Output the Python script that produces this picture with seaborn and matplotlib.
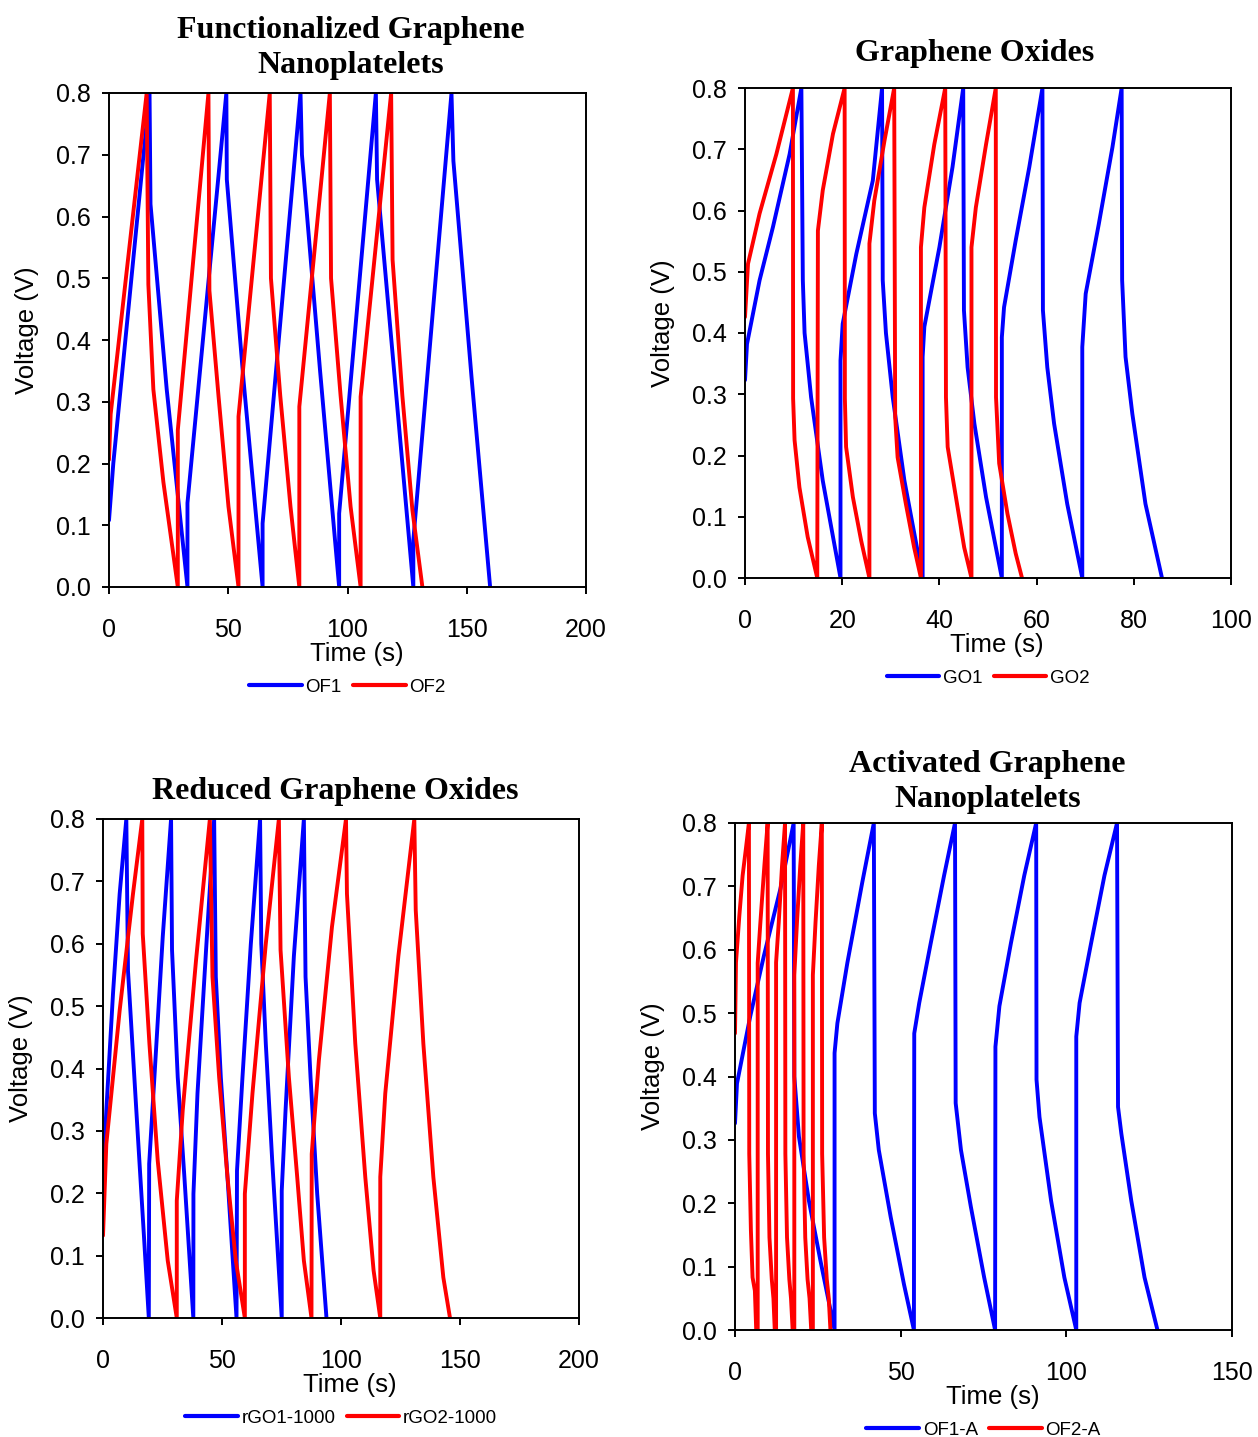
import matplotlib
matplotlib.use('Agg')
import matplotlib.pyplot as plt
from matplotlib.ticker import FormatStrFormatter
from matplotlib.lines import Line2D
import seaborn as sns

# Charge/discharge curves (time in s, voltage in V)

# Functionalized graphene nanoplatelets
of1_t = [0, 1.8, 17.0, 17.4, 24.2, 32.9,
         32.9, 49.2, 49.4, 56.4, 64.4,
         64.4, 80.3, 80.9, 88.5, 96.5,
         96.5, 111.9, 112.4, 120.0, 127.6,
         127.6, 143.6, 144.4, 152.0, 159.8]
of1_v = [0.108, 0.20, 0.80, 0.62, 0.32, 0.0,
         0.136, 0.80, 0.66, 0.335, 0.0,
         0.103, 0.80, 0.70, 0.35, 0.0,
         0.119, 0.80, 0.66, 0.33, 0.0,
         0.076, 0.80, 0.69, 0.34, 0.0]
of2_t = [0, 0.7, 15.8, 16.5, 18.6, 22.8, 28.85,
         28.85, 41.7, 42.1, 45.9, 50.1, 54.3,
         54.3, 67.4, 67.9, 71.8, 76.1, 79.8,
         79.8, 92.6, 93.1, 97.1, 101.3, 105.5,
         105.5, 118.3, 118.9, 123.0, 127.2, 131.4]
of2_v = [0.206, 0.28, 0.80, 0.49, 0.32, 0.17, 0.0,
         0.254, 0.80, 0.48, 0.31, 0.13, 0.0,
         0.276, 0.80, 0.50, 0.31, 0.13, 0.0,
         0.292, 0.80, 0.50, 0.31, 0.13, 0.0,
         0.308, 0.80, 0.53, 0.31, 0.125, 0.0]

# Graphene oxides
go1_t = [0, 0.41, 3.0, 5.75, 9.18, 11.6, 11.9, 12.26, 13.6, 16.0, 19.65,
         19.65, 20.1, 22.9, 26.3, 28.2, 28.34, 29.0, 30.4, 32.8, 36.55,
         36.55, 36.9, 40.0, 42.7, 44.9, 45.05, 45.8, 47.2, 49.6, 52.85,
         52.85, 53.3, 55.7, 58.5, 61.2, 61.3, 62.2, 63.6, 66.3, 69.4,
         69.4, 70.1, 72.8, 75.6, 77.5, 77.6, 78.3, 79.7, 82.4, 85.8]
go1_v = [0.323, 0.382, 0.486, 0.573, 0.692, 0.80, 0.486, 0.40, 0.295, 0.159, 0.0,
         0.355, 0.415, 0.529, 0.649, 0.80, 0.486, 0.40, 0.295, 0.159, 0.0,
         0.361, 0.41, 0.54, 0.671, 0.80, 0.437, 0.344, 0.252, 0.132, 0.0,
         0.393, 0.442, 0.551, 0.671, 0.80, 0.437, 0.344, 0.252, 0.121, 0.0,
         0.377, 0.464, 0.578, 0.703, 0.80, 0.486, 0.361, 0.268, 0.121, 0.0]
go2_t = [0, 0.62, 3.0, 6.45, 9.86, 9.9, 10.2, 11.2, 12.9, 14.87,
         15.0, 16.0, 18.1, 20.5, 20.55, 20.8, 22.2, 23.9, 25.6,
         25.6, 26.6, 28.7, 30.7, 30.9, 31.4, 33.1, 34.8, 36.2,
         36.2, 36.9, 38.95, 41.2, 41.35, 41.7, 43.4, 45.1, 46.6,
         46.6, 47.5, 49.6, 51.6, 51.65, 52.3, 54.0, 55.7, 57.0]
go2_v = [0.426, 0.513, 0.595, 0.692, 0.80, 0.293, 0.225, 0.148, 0.067, 0.0,
         0.567, 0.633, 0.725, 0.80, 0.293, 0.214, 0.132, 0.061, 0.0,
         0.546, 0.616, 0.714, 0.80, 0.263, 0.197, 0.121, 0.05, 0.0,
         0.54, 0.605, 0.708, 0.80, 0.295, 0.214, 0.132, 0.05, 0.0,
         0.54, 0.605, 0.708, 0.80, 0.295, 0.187, 0.105, 0.04, 0.0]

# Reduced graphene oxides
rgo1_t = [0, 1.4, 4.2, 7.0, 9.8, 10.5, 14.0, 17.4, 19.25,
          19.4, 21.6, 25.1, 28.6, 29.0, 31.4, 34.2, 37.95,
          38.0, 39.7, 43.3, 46.7, 47.4, 49.5, 52.3, 56.1,
          56.3, 58.6, 62.1, 66.0, 66.5, 68.4, 71.1, 75.1,
          75.1, 76.7, 80.2, 84.4, 85.1, 87.2, 90.0, 93.9]
rgo1_v = [0.226, 0.333, 0.52, 0.68, 0.80, 0.557, 0.333, 0.119, 0.0,
          0.247, 0.386, 0.611, 0.80, 0.59, 0.386, 0.226, 0.0,
          0.199, 0.36, 0.59, 0.80, 0.547, 0.386, 0.226, 0.0,
          0.236, 0.386, 0.599, 0.80, 0.60, 0.44, 0.252, 0.0,
          0.204, 0.333, 0.58, 0.80, 0.547, 0.386, 0.199, 0.0]
rgo2_t = [0, 1.4, 7.0, 12.6, 16.5, 16.7, 19.5, 23.0, 27.2, 31.0,
          31.0, 33.5, 39.1, 44.9, 46.0, 48.8, 52.3, 55.8, 59.6,
          59.6, 62.8, 68.4, 73.9, 74.6, 78.1, 81.6, 84.4, 87.6,
          87.7, 90.7, 96.2, 102.1, 102.5, 106.0, 110.2, 113.7, 116.5,
          116.5, 118.6, 124.1, 130.8, 131.4, 134.6, 138.8, 143.0, 145.8]
rgo2_v = [0.132, 0.279, 0.493, 0.68, 0.80, 0.616, 0.44, 0.252, 0.092, 0.0,
          0.188, 0.333, 0.574, 0.80, 0.547, 0.386, 0.226, 0.092, 0.0,
          0.199, 0.36, 0.60, 0.80, 0.59, 0.386, 0.226, 0.092, 0.0,
          0.263, 0.413, 0.627, 0.80, 0.68, 0.44, 0.226, 0.076, 0.0,
          0.226, 0.36, 0.58, 0.80, 0.654, 0.44, 0.226, 0.065, 0.0]

# Activated graphene nanoplatelets
of1a_t = [0, 0.6, 4.6, 8.7, 13.7, 17.7, 17.9, 19.3, 22.3, 25.8, 30.05,
          30.05, 30.9, 33.9, 38.4, 41.9, 42.2, 43.4, 47.0, 51.0, 54.0,
          54.1, 55.6, 59.1, 63.1, 66.4, 66.6, 68.2, 71.2, 75.2, 78.5,
          78.6, 79.8, 83.3, 87.3, 90.9, 91.0, 91.9, 95.4, 99.4, 103.0,
          103.0, 104.0, 107.5, 111.5, 115.3, 115.6, 116.6, 119.6, 123.6, 127.5]
of1a_v = [0.326, 0.389, 0.495, 0.59, 0.696, 0.80, 0.40, 0.305, 0.204, 0.109, 0.0,
          0.437, 0.484, 0.579, 0.706, 0.80, 0.342, 0.284, 0.178, 0.072, 0.0,
          0.468, 0.516, 0.611, 0.717, 0.80, 0.358, 0.284, 0.194, 0.083, 0.0,
          0.447, 0.511, 0.611, 0.717, 0.80, 0.395, 0.336, 0.204, 0.083, 0.0,
          0.463, 0.516, 0.611, 0.717, 0.80, 0.352, 0.31, 0.204, 0.083, 0.0]
of2a_t = [0, 0.3, 1.3, 2.3, 3.3, 4.2, 4.3, 4.8, 5.3, 6.0, 6.4,
          6.85, 6.85, 7.66, 8.87, 9.85, 9.95, 10.4, 11.1, 11.6, 12.0,
          12.4, 12.4, 13.2, 14.2, 15.1, 15.2, 15.7, 16.4, 16.9, 17.4,
          17.9, 17.9, 18.7, 19.7, 20.6, 20.7, 21.2, 21.9, 22.5, 23.0,
          23.5, 23.5, 24.3, 25.3, 26.2, 26.3, 26.9, 27.7, 28.3, 28.8]
of2a_v = [0.468, 0.58, 0.653, 0.717, 0.76, 0.80, 0.278, 0.157, 0.083, 0.062, 0.0,
          0.0, 0.579, 0.643, 0.733, 0.80, 0.278, 0.146, 0.08, 0.05, 0.0,
          0.0, 0.58, 0.643, 0.733, 0.80, 0.278, 0.146, 0.08, 0.05, 0.0,
          0.0, 0.56, 0.643, 0.733, 0.80, 0.278, 0.146, 0.08, 0.05, 0.0,
          0.0, 0.56, 0.643, 0.733, 0.80, 0.278, 0.146, 0.08, 0.05, 0.0]

W, H = 1258, 1437
BLUE, RED = '#0000ff', '#ff0000'

sns.set_style('white')
plt.rcParams['font.family'] = ['Liberation Sans', 'DejaVu Sans']
plt.rcParams['text.color'] = 'black'
plt.rcParams['axes.labelcolor'] = 'black'
plt.rcParams['xtick.color'] = 'black'
plt.rcParams['ytick.color'] = 'black'

fig = plt.figure(figsize=(W / 100, H / 100), dpi=100)

# plot area in pixels (left, right, top, bottom), title centre offsets in pixels
panels = [
    dict(box=(109, 586, 93, 587), title='Functionalized Graphene\nNanoplatelets',
         title_dx=3, title_up=45, xmax=200, xstep=50,
         s1=(of1_t, of1_v, 'OF1'), s2=(of2_t, of2_v, 'OF2')),
    dict(box=(745, 1231, 88, 578), title='Graphene Oxides',
         title_dx=-13, title_up=35, xmax=100, xstep=20,
         s1=(go1_t, go1_v, 'GO1'), s2=(go2_t, go2_v, 'GO2')),
    dict(box=(103, 579, 819, 1318), title='Reduced Graphene Oxides',
         title_dx=-6, title_up=27, xmax=200, xstep=50,
         s1=(rgo1_t, rgo1_v, 'rGO1-1000'), s2=(rgo2_t, rgo2_v, 'rGO2-1000')),
    dict(box=(735, 1232, 823, 1330), title='Activated Graphene\nNanoplatelets',
         title_dx=4, title_up=41, xmax=150, xstep=50,
         s1=(of1a_t, of1a_v, 'OF1-A'), s2=(of2a_t, of2a_v, 'OF2-A')),
]

for p in panels:
    l, r, t, b = p['box']
    wpx, hpx = r - l, b - t
    ax = fig.add_axes([l / W, 1 - b / H, wpx / W, hpx / H])

    for (tt, vv, lab), col in [(p['s1'], BLUE), (p['s2'], RED)]:
        sns.lineplot(x=tt, y=vv, sort=False, estimator=None, color=col,
                     linewidth=2.8, ax=ax, legend=False)

    ax.set_xlim(0, p['xmax'])
    ax.set_ylim(0, 0.8)
    ax.set_xticks(range(0, p['xmax'] + 1, p['xstep']))
    ax.set_yticks([i / 10 for i in range(9)])
    ax.yaxis.set_major_formatter(FormatStrFormatter('%.1f'))
    ax.tick_params(axis='both', direction='out', length=5, width=1.4,
                   color='black', labelcolor='black', labelsize=18,
                   left=True, bottom=True)
    ax.tick_params(axis='x', pad=17)
    ax.tick_params(axis='y', pad=8)
    for sp in ax.spines.values():
        sp.set_color('black')
        sp.set_linewidth(1.4)

    ax.set_xlabel('Time (s)', fontsize=18.5, color='black')
    ax.xaxis.label.set_va('center')
    ax.xaxis.set_label_coords(0.5 + 9 / wpx, -67 / hpx)
    ax.set_ylabel('Voltage (V)', fontsize=18.5, color='black')
    ax.yaxis.label.set_va('center')
    ax.yaxis.set_label_coords(-82 / wpx, 0.5 + 10 / hpx)

    ax.text(0.5 + p['title_dx'] / wpx, 1 + p['title_up'] / hpx, p['title'],
            transform=ax.transAxes, ha='center', va='center', fontsize=23,
            fontweight='bold', family='Liberation Serif', linespacing=1.28,
            color='black')

    handles = [Line2D([], [], color=BLUE, lw=3), Line2D([], [], color=RED, lw=3)]
    ax.legend(handles, [p['s1'][2], p['s2'][2]], loc='center',
              bbox_to_anchor=(0.5, -100 / hpx), ncol=2, frameon=False,
              fontsize=13.5, handlelength=2.8, handletextpad=0.2,
              columnspacing=0.6, borderpad=0, labelcolor='black')

fig.savefig('out.png', dpi=100)
